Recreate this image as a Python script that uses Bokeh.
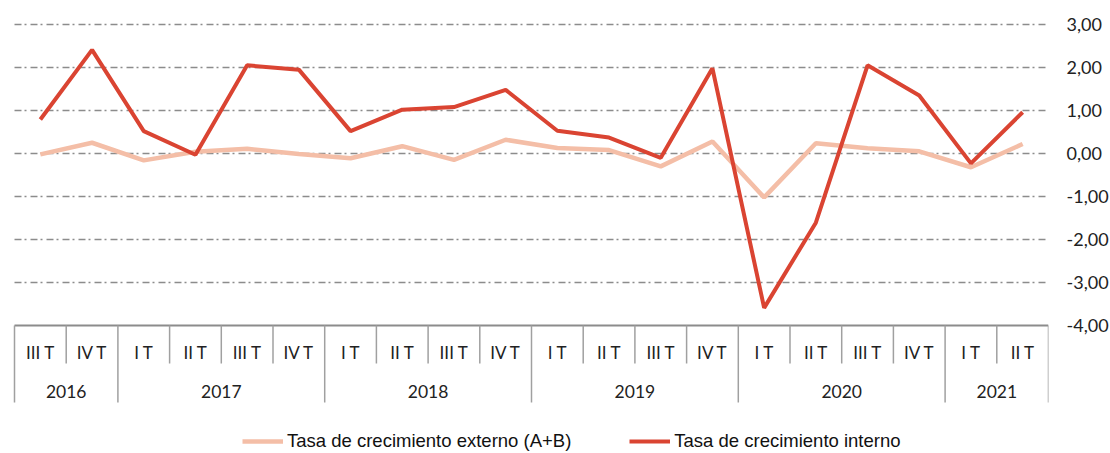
from bokeh.plotting import figure
from bokeh.models import (Range1d, LinearAxis, FixedTicker, CustomJSTickFormatter,
                          Legend, LegendItem, ColumnDataSource)
from bokeh.core.properties import value
from bokeh.embed import file_html
from bokeh.resources import INLINE

# ---------------- data ----------------
quarters = ["III T", "IV T",
            "I T", "II T", "III T", "IV T",
            "I T", "II T", "III T", "IV T",
            "I T", "II T", "III T", "IV T",
            "I T", "II T", "III T", "IV T",
            "I T", "II T"]
years = ["2016", "2017", "2018", "2019", "2020", "2021"]
quarters_per_year = [2, 4, 4, 4, 4, 2]

externo = [-0.02, 0.25, -0.16, 0.04, 0.11, -0.01, -0.11, 0.17, -0.15, 0.32,
           0.13, 0.08, -0.30, 0.28, -1.02, 0.24, 0.12, 0.05, -0.32, 0.22]
interno = [0.79, 2.41, 0.52, -0.03, 2.05, 1.95, 0.52, 1.02, 1.08, 1.48,
           0.53, 0.37, -0.10, 1.98, -3.59, -1.61, 2.05, 1.35, -0.23, 0.96]

series_names = ["Tasa de crecimiento externo (A+B)", "Tasa de crecimiento interno"]
y_ticks = [-4, -3, -2, -1, 0, 1, 2, 3]
grid_values = [-3, -2, -1, 0, 1, 2, 3]

# ---------------- geometry ----------------
PX_PER_CAT = 51.7
PX_PER_UNIT = 43.0
FRAME_W = 1040
FRAME_H = 445
y_top = 3 + 16 / PX_PER_UNIT
y_bottom = y_top - FRAME_H / PX_PER_UNIT
n = len(quarters)
x_start = -6 / PX_PER_CAT
y_min = min(y_ticks)

p = figure(frame_width=FRAME_W, frame_height=FRAME_H,
           x_range=Range1d(x_start, n), y_range=Range1d(y_bottom, y_top),
           output_backend="svg", toolbar_location=None,
           x_axis_location=None, y_axis_location=None,
           min_border=0, min_border_left=8, min_border_right=0,
           min_border_top=8, min_border_bottom=0)
p.outline_line_color = None
p.xgrid.visible = False
p.ygrid.visible = False
p.background_fill_color = "white"
p.border_fill_color = "white"

# grid lines (dash-dot)
p.segment(x0=[0] * len(grid_values), x1=[n] * len(grid_values),
          y0=grid_values, y1=grid_values,
          line_color="#8c8c8c", line_width=1.6, line_dash="7 3 2 4")

# category axis: base line
p.segment(x0=[0], x1=[n], y0=[y_min], y1=[y_min],
          line_color="#8c8c8c", line_width=2)

# year boundaries
bounds = [0]
for c in quarters_per_year:
    bounds.append(bounds[-1] + c)
q_depth = 38 / PX_PER_UNIT
y_depth = 77 / PX_PER_UNIT
quarter_seps = [i for i in range(1, n) if i not in bounds]
p.segment(x0=quarter_seps, x1=quarter_seps,
          y0=[y_min] * len(quarter_seps), y1=[y_min - q_depth] * len(quarter_seps),
          line_color="#a0a0a0", line_width=1.5)
p.segment(x0=bounds, x1=bounds,
          y0=[y_min] * len(bounds), y1=[y_min - y_depth] * len(bounds),
          line_color="#a0a0a0", line_width=1.5)

# labels
q_label_y = 3 - (352 - 24) / PX_PER_UNIT
y_label_y = 3 - (391 - 24) / PX_PER_UNIT
p.text(x=[i + 0.5 for i in range(n)], y=[q_label_y] * n, text=quarters,
       text_font=value("Lato"), text_font_size="17px", text_color="#222222",
       text_align="center", text_baseline="middle")
year_centers = [(bounds[k] + bounds[k + 1]) / 2 for k in range(len(years))]
p.text(x=year_centers, y=[y_label_y] * len(years), text=years,
       text_font=value("Lato"), text_font_size="17.5px", text_color="#222222",
       text_align="center", text_baseline="middle")

# series
xs = [i + 0.5 for i in range(n)]
src = ColumnDataSource(dict(x=xs, externo=externo, interno=interno))
r_ext = p.line("x", "externo", source=src, line_color="#F4BEA7", line_width=4.5)
r_int = p.line("x", "interno", source=src, line_color="#DA4432", line_width=4)

# right axis
ax = LinearAxis(ticker=FixedTicker(ticks=y_ticks),
                formatter=CustomJSTickFormatter(code="return tick.toFixed(2).replace('.', ',');"))
ax.axis_line_color = None
ax.major_tick_line_color = None
ax.minor_tick_line_color = None
ax.major_tick_out = 0
ax.major_tick_in = 0
ax.major_label_standoff = 18
ax.major_label_text_font = "Lato"
ax.major_label_text_font_size = "18px"
ax.major_label_text_color = "#222222"
p.add_layout(ax, "right")

# legend
legend = Legend(items=[LegendItem(label=series_names[0], renderers=[r_ext]),
                       LegendItem(label=series_names[1], renderers=[r_int])],
                orientation="horizontal", location=(234, 1),
                glyph_width=41, glyph_height=20, label_height=20,
                label_standoff=4, spacing=58, padding=0, margin=0,
                border_line_color=None, background_fill_alpha=0,
                label_text_font="Liberation Sans", label_text_font_size="18.5px",
                label_text_color="#111111")
p.add_layout(legend)

open("out.html", "w").write(file_html(p, INLINE))
